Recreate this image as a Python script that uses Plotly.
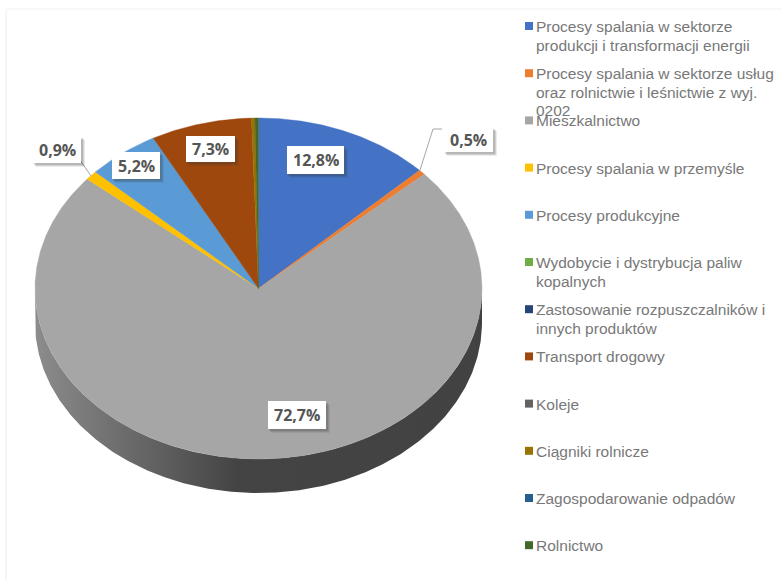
import numpy as np
import plotly.graph_objects as go

# ---- data ----
categories = [
    "Procesy spalania w sektorze<br>produkcji i transformacji energii",
    "Procesy spalania w sektorze usług<br>oraz rolnictwie i leśnictwie z wyj.<br>0202",
    "Mieszkalnictwo",
    "Procesy spalania w przemyśle",
    "Procesy produkcyjne",
    "Wydobycie i dystrybucja paliw<br>kopalnych",
    "Zastosowanie rozpuszczalników i<br>innych produktów",
    "Transport drogowy",
    "Koleje",
    "Ciągniki rolnicze",
    "Zagospodarowanie odpadów",
    "Rolnictwo",
]
values = [12.8, 0.5, 72.7, 0.9, 5.2, 0.0, 0.0, 7.3, 0.0, 0.25, 0.0, 0.25]
colors = ["#4472C4", "#ED7D31", "#A6A6A6", "#FFC000", "#5B9BD5", "#70AD47",
          "#264478", "#9E480E", "#636363", "#997300", "#255E91", "#43682B"]

# ---- geometry (axes are in picture pixels) ----
CX, CY, RX, RY, DEPTH = 258.5, 288.5, 223.5, 170.5, 34
LEG_X, LEG_Y0, LEG_DY = 529, 26, 47.2
LINE_H = 18.5

# data-label boxes: index -> (x0, y0, x1, y1)
label_boxes = {0: (287, 146, 344, 174), 1: (444, 127, 493, 152), 2: (268, 401, 326, 429),
               3: (33, 136, 81, 163), 4: (112, 152, 160, 179), 7: (186, 136, 235, 162)}
leaders = [([78, 91], [157, 176]), ([442, 433, 420], [129, 129, 170])]


def arc(a0, a1, n=200):
    """Clockwise-from-top angles (degrees) to points on the top-face ellipse."""
    t = np.radians(np.linspace(a0, a1, max(2, n)))
    return CX + RX * np.sin(t), CY - RY * np.cos(t)


fig = go.Figure()

# side wall of the pie (lower half only is visible)
xa, ya = arc(90, 270, 300)
fig.add_trace(go.Scatter(
    x=np.r_[xa, xa[::-1]], y=np.r_[ya, ya[::-1] + DEPTH],
    mode="lines", line=dict(width=0), fill="toself", hoverinfo="skip", showlegend=False,
    fillgradient=dict(type="horizontal",
                      colorscale=[[0, "#8C8C8C"], [0.45, "#444444"], [1, "#424242"]]),
))

# top-face slices
total = sum(values)
angle = 0.0
for name, v, c in zip(categories, values, colors):
    sweep = v / total * 360
    if v > 0:
        xs, ys = arc(angle, angle + sweep, int(sweep * 3) + 2)
        fig.add_trace(go.Scatter(
            x=np.r_[CX, xs, CX], y=np.r_[CY, ys, CY],
            mode="lines", line=dict(width=0.4, color=c), fill="toself", fillcolor=c,
            name=name.replace("<br>", " "), hoverinfo="name", showlegend=False,
        ))
    angle += sweep

# leader lines
for lx, ly in leaders:
    fig.add_trace(go.Scatter(x=lx, y=ly, mode="lines", line=dict(color="#A6A6A6", width=1),
                             hoverinfo="skip", showlegend=False))

# legend markers
leg_y = [LEG_Y0 + LEG_DY * i for i in range(len(categories))]
fig.add_trace(go.Scatter(x=[LEG_X] * len(categories), y=leg_y, mode="markers",
                         marker=dict(symbol="square", size=8, color=colors),
                         hoverinfo="skip", showlegend=False))

# faint frame of the picture
shapes = [dict(type="line", x0=6, x1=6, y0=9, y1=581, line=dict(color="#F6F6F6", width=2), layer="below"),
          dict(type="line", x0=6, x1=782, y0=9, y1=9, line=dict(color="#F8F8F8", width=2), layer="below")]
annotations = []
# data labels with soft shadow
for i, (x0, y0, x1, y1) in label_boxes.items():
    for off, op in ((4, 0.10), (3, 0.14), (2, 0.18)):
        shapes.append(dict(type="rect", x0=x0 + off - 1, y0=y0 + off, x1=x1 + off, y1=y1 + off,
                           line_width=0, fillcolor=f"rgba(60,60,60,{op})", layer="above"))
    shapes.append(dict(type="rect", x0=x0, y0=y0, x1=x1, y1=y1, line_width=0,
                       fillcolor="white", layer="above"))
    annotations.append(dict(x=(x0 + x1) / 2, y=(y0 + y1) / 2,
                            text="<b>" + f"{values[i]:.1f}".replace(".", ",") + "%</b>",
                            showarrow=False, xanchor="center", yanchor="middle",
                            font=dict(family="Open Sans", size=16, color="#555555")))

# legend text, one annotation per line to keep the tight line spacing
for name, y in zip(categories, leg_y):
    for k, line in enumerate(name.split("<br>")):
        annotations.append(dict(x=LEG_X + 6, y=y + 0.5 + k * LINE_H, text=line, align="left",
                                showarrow=False, xanchor="left", yanchor="middle", borderpad=0,
                                font=dict(family="Liberation Sans", size=15.5, color="#787878")))

fig.update_layout(
    width=782, height=581, autosize=False, margin=dict(l=0, r=0, t=0, b=0),
    paper_bgcolor="white", plot_bgcolor="white", showlegend=False,
    xaxis=dict(range=[0, 782], visible=False, fixedrange=True),
    yaxis=dict(range=[581, 0], visible=False, fixedrange=True),
    shapes=shapes, annotations=annotations,
)
fig.write_html("out.html", config=dict(displayModeBar=False),
               post_script="document.body.style.margin='0';document.documentElement.style.overflow='hidden';")
